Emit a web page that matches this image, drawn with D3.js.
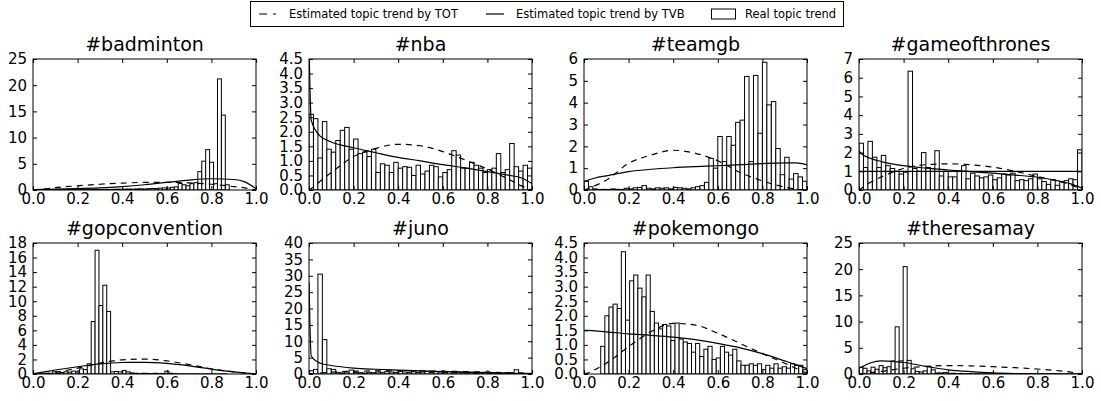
<!DOCTYPE html>
<html>
<head>
<meta charset="utf-8">
<script src="https://cdn.jsdelivr.net/npm/d3@7/dist/d3.min.js"></script>
<style>
  body { margin: 0; background: #fff; }
  text { font-family: "DejaVu Sans", sans-serif; }
</style>
</head>
<body>
<div id="chart"></div>
<script>
// ---- data ----
const topics = ["#badminton", "#nba", "#teamgb", "#gameofthrones",
                "#gopconvention", "#juno", "#pokemongo", "#theresamay"];
const legendLabels = ["Estimated topic trend by TOT", "Estimated topic trend by TVB", "Real topic trend"];

// histogram range of each panel (50 bins over it)
const histLo = [0, 0, 0, 0, 0, 0, 0.075, 0];
const histHi = [0.88, 1, 1, 1, 0.87, 1, 1, 0.9];
const yMax  = [25, 4.5, 6, 7, 18, 40, 4.5, 25];
const yStep = [5, 0.5, 1, 1, 2, 5, 0.5, 5];
const xTicks = [0, 0.2, 0.4, 0.6, 0.8, 1.0];

const realBadminton = [0.05,0.02,0.03,0.02,0.04,0.03,0.05,0.04,0.06,0.05, 0.05,0.06,0.08,0.07,0.06,0.09,0.1,0.08,0.12,0.1,
  0.12,0.15,0.13,0.16,0.18,0.15,0.2,0.22,0.18,0.25, 0.3,0.28,0.35,0.4,0.38,0.5,0.6, 1.25,1.0,0.8,1.2,1.4,3.5,5.5,7.7,5.3,1.2,21.2,14.3,1.0];
const realNba = [2.6,2.45,1.1,2.35,1.4,1.3,1.7,2.05,2.15,1.4, 1.75,1.25,1.3,1.15,1.4,0.6,0.9,0.85,0.6,0.95,
  0.75,0.8,0.78,0.5,0.85,0.55,0.65,0.85,0.8,0.45, 0.6,0.7,1.35,1.2,0.75,0.75,0.95,0.85,0.75,0.6,
  0.7,0.75,1.25,0.6,0.7,1.6,0.8,0.65,0.85,0.75];
const realTeamgb = [0.4,0.15,0.05,0.02,0.03,0.02,0.05,0.03,0.02,0.08, 0.05,0.1,0.12,0.2,0.08,0.05,0.1,0.08,0.1,0.05,
  0.12,0.1,0.08,0.05,0.1,0.15,0.2,0.35, 1.45,1.0,2.45,1.3,2.45,2.05,3.1,3.2,5.2,1.3,
  5.25,2.6,5.85,3.9,4.05,1.9,0.7,1.5,0.5,0.75,0.6,0.4];
const realGot = [2.5,1.2,2.6,1.75,1.2,1.85,1.3,1.15,1.0,0.85, 0.95,6.35,1.15,1.0,2.0,1.2,1.15,2.1,0.75,1.0,
  0.7,0.7,1.0,1.3,0.6,0.9,0.75,0.65,0.7,0.8, 0.55,0.65,0.85,0.8,0.9,0.5,0.55,0.5,0.6,0.85,
  0.6,0.45,0.3,0.55,0.25,0.45,0.5,0.6,0.55,2.15];
const realGop = [0.05,0.02,0.05,0.1,0.08,0.3,0.15,0.2,0.3,0.25, 0.4,0.3,0.7,0.6,1.4,7.2,17.0,9.4,12.2,8.6,
  0.3,0.35,0.3,0.5,0.3,0.15,0.1,0.05,0.1,0.08, 0.05,0.1,0.05,0.08,0.4,0.1,0.05,0.02,0.03,0.02,
  0.02,0.01,0.02,0.01,0.01,0.02,0.01,0.01,0.01,0.02];
const realJuno = [1.0,1.4,30.5,10.5,1.6,1.4,0.5,0.3,0.6,1.2, 0.5,0.4,0.3,0.5,0.4,0.6,0.5,0.7,0.6,0.5,
  0.8,0.6,0.5,0.7,0.5,0.6,0.8,0.5,0.7,0.6, 0.5,0.7,0.4,0.6,0.5,0.4,0.5,0.3,0.4,0.5,
  0.3,0.4,0.3,0.2,0.4,0.3,1.3,0.3,0.2,0.2];
const realPokemongo = [0.95,2.0,2.3,2.4,2.25,4.2,1.85,3.2,3.4,2.95, 2.65,3.4,2.15,1.75,1.55,1.7,1.65,1.15,1.75,1.2,
  1.1,1.05,0.75,1.05,0.6,0.85,0.95,0.5,0.55,0.95, 0.75,0.65,0.85,0.45,0.3,0.3,0.35,0.3,0.35,0.15,
  0.3,0.2,0.35,0.2,0.25,0.2,0.35,0.3,0.3,0.15];
const realTheresamay = [1.3,1.1,0.6,1.3,0.9,1.6,1.2,1.4,2.5,9.0, 2.5,20.5,2.6,1.0,0.5,0.4,0.6,1.4,0.8,0.2,
  0.2,0.3,0.1,0.15,0.05,0.1,0.05,0.08,0.03,0.05, 0.02,0.03,0.02,0.04,0.02,0.01,0.02,0.01,0.02,0.01,
  0.01,0.02,0.01,0.01,0.02,0.01,0.01,0.01,0.02,0.01];
const realTrend = [realBadminton, realNba, realTeamgb, realGot, realGop, realJuno, realPokemongo, realTheresamay];

// estimated curves, sampled at these x positions
const curveX = [0, 0.01, 0.05, 0.1, 0.2, 0.3, 0.4, 0.5, 0.6, 0.7, 0.8, 0.9, 0.95, 1.0];
const totTrend = [
  [0, 0.03, 0.2, 0.45, 0.8, 1.1, 1.3, 1.45, 1.45, 1.35, 1.1, 0.65, 0.4, 0],
  [0, 0.05, 0.3, 0.6, 1.15, 1.43, 1.57, 1.52, 1.32, 1.03, 0.72, 0.35, 0.15, 0],
  [0, 0.03, 0.2, 0.45, 1.22, 1.6, 1.82, 1.68, 1.34, 0.8, 0.42, 0.13, 0.04, 0],
  [0, 0.08, 0.4, 0.7, 1.15, 1.35, 1.4, 1.35, 1.22, 1.0, 0.72, 0.45, 0.28, 0],
  [0, 0.0, 0.05, 0.25, 0.8, 1.5, 1.95, 2.05, 1.8, 1.3, 0.72, 0.3, 0.12, 0],
  [0, 0.05, 0.3, 0.55, 0.85, 0.95, 1.0, 0.95, 0.85, 0.72, 0.58, 0.38, 0.25, 0.05],
  [0, 0.02, 0.15, 0.37, 0.94, 1.45, 1.74, 1.68, 1.4, 1.05, 0.7, 0.37, 0.2, 0.02],
  [0, 0.03, 0.25, 0.5, 1.1, 1.45, 1.6, 1.55, 1.4, 1.2, 0.95, 0.6, 0.35, 0]
];
const tvbTrend = [
  [0.1, 0.1, 0.12, 0.15, 0.25, 0.4, 0.65, 1.0, 1.45, 1.9, 2.15, 2.0, 1.55, 0.25],
  [5.0, 2.4, 1.85, 1.65, 1.45, 1.28, 1.12, 1.0, 0.87, 0.76, 0.63, 0.5, 0.42, 0.22],
  [0.38, 0.42, 0.55, 0.65, 0.84, 0.95, 1.02, 1.07, 1.11, 1.16, 1.21, 1.24, 1.24, 1.15],
  [2.1, 1.95, 1.7, 1.52, 1.3, 1.17, 1.07, 0.98, 0.9, 0.8, 0.68, 0.47, 0.33, 0.1],
  [0.05, 0.1, 0.3, 0.55, 1.0, 1.4, 1.58, 1.6, 1.45, 1.12, 0.68, 0.3, 0.15, 0.03],
  [28, 5.5, 3.3, 2.6, 1.8, 1.45, 1.2, 0.95, 0.75, 0.58, 0.42, 0.25, 0.17, 0.08],
  [1.5, 1.5, 1.48, 1.45, 1.38, 1.33, 1.27, 1.18, 1.05, 0.9, 0.7, 0.45, 0.32, 0.18],
  [1.1, 1.3, 2.1, 2.5, 2.2, 1.45, 0.8, 0.45, 0.22, 0.1, 0.05, 0.02, 0.01, 0]
];
// the flat reference line seen in #gameofthrones
const flatX = [0, 1];
const flatTrend = [null, null, null, [1.0, 1.0], null, null, null, null];

// ---- layout ----
const W = 1101, H = 401;
const colLeft = [33, 309, 584, 859];
const rowTop = [59, 243];
const pw = 223, ph = 131;

const svg = d3.select("#chart").append("svg")
    .attr("width", W)
    .attr("height", H);

topics.forEach((name, i) => {
  let left = colLeft[i % 4],
      top = rowTop[Math.floor(i / 4)];

  let x = d3.scaleLinear().domain([0, 1]).range([0, pw]);
  let y = d3.scaleLinear().domain([0, yMax[i]]).range([ph, 0]);

  let g = svg.append("g")
      .attr("transform", `translate(${ left }, ${ top })`);

  g.append("clipPath")
      .attr("id", `clip${ i }`)
    .append("rect")
      .attr("width", pw)
      .attr("height", ph);

  let plot = g.append("g").attr("clip-path", `url(#clip${ i })`);

  // histogram bars
  let vals = realTrend[i],
      bw = (histHi[i] - histLo[i]) / vals.length;
  plot.selectAll("rect.bar")
      .data(vals)
      .enter().append("rect")
      .attr("class", "bar")
      .attr("x", (d, k) => x(histLo[i] + k * bw))
      .attr("width", x(bw) - x(0))
      .attr("y", (d) => y(d))
      .attr("height", (d) => y(0) - y(d))
      .attr("fill", "#fff")
      .attr("stroke", "#000")
      .attr("stroke-width", 1);

  let line = d3.line()
      .x((d, k) => x(curveX[k]))
      .y((d) => y(d))
      .curve(d3.curveMonotoneX);

  plot.append("path")
      .attr("d", line(totTrend[i]))
      .attr("fill", "none")
      .attr("stroke", "#000")
      .attr("stroke-width", 1.2)
      .attr("stroke-dasharray", "6,5");

  plot.append("path")
      .attr("d", line(tvbTrend[i]))
      .attr("fill", "none")
      .attr("stroke", "#000")
      .attr("stroke-width", 1.2);

  if (flatTrend[i]) {
    let flat = d3.line().x((d, k) => x(flatX[k])).y((d) => y(d));
    plot.append("path")
        .attr("d", flat(flatTrend[i]))
        .attr("fill", "none")
        .attr("stroke", "#000")
        .attr("stroke-width", 1.2);
  }

  // axes, ticks pointing inward on all four sides
  let yTicks = d3.range(0, yMax[i] + yStep[i] / 2, yStep[i]);
  let yFmt = yStep[i] < 1 ? d3.format(".1f") : d3.format("d");

  let ax = [
    [d3.axisBottom(x).tickValues(xTicks).tickFormat(d3.format(".1f")).tickPadding(3), `translate(0, ${ ph })`],
    [d3.axisTop(x).tickValues(xTicks).tickFormat(""), "translate(0, 0)"],
    [d3.axisLeft(y).tickValues(yTicks).tickFormat(yFmt).tickPadding(6), "translate(0, 0)"],
    [d3.axisRight(y).tickValues(yTicks).tickFormat(""), `translate(${ pw }, 0)`]
  ];
  ax.forEach(([a, tr]) => {
    let ag = g.append("g")
        .attr("transform", tr)
        .call(a.tickSizeInner(-4).tickSizeOuter(0));
    ag.select(".domain").remove();
    ag.selectAll("line").attr("stroke", "#000");
    ag.selectAll("text")
        .attr("font-family", "DejaVu Sans")
        .attr("font-size", 15)
        .attr("fill", "#000");
  });

  g.append("rect")
      .attr("width", pw)
      .attr("height", ph)
      .attr("fill", "none")
      .attr("stroke", "#000")
      .attr("stroke-width", 1);

  g.append("text")
      .attr("x", pw / 2)
      .attr("y", -8)
      .attr("text-anchor", "middle")
      .attr("font-size", 19)
      .attr("fill", "#000")
      .text(name);
});

// ---- legend ----
let lx = 250, ly = 1, lw = 593, lh = 25;
let leg = svg.append("g");
leg.append("rect")
    .attr("x", lx + 0.5).attr("y", ly + 0.5)
    .attr("width", lw).attr("height", lh)
    .attr("fill", "#fff").attr("stroke", "#000");

let midY = ly + lh / 2 + 0.5;
leg.append("line")
    .attr("x1", lx + 9).attr("x2", lx + 26)
    .attr("y1", midY).attr("y2", midY)
    .attr("stroke", "#000").attr("stroke-width", 1.2)
    .attr("stroke-dasharray", "8,6");
leg.append("line")
    .attr("x1", lx + 236).attr("x2", lx + 254)
    .attr("y1", midY).attr("y2", midY)
    .attr("stroke", "#000").attr("stroke-width", 1.2);
leg.append("rect")
    .attr("x", lx + 461.5).attr("y", midY - 5)
    .attr("width", 24).attr("height", 10)
    .attr("fill", "#fff").attr("stroke", "#000");

let textX = [lx + 39, lx + 266, lx + 495];
leg.selectAll("text.lab")
    .data(legendLabels)
    .enter().append("text")
    .attr("class", "lab")
    .attr("x", (d, k) => textX[k])
    .attr("y", midY)
    .attr("dy", "0.35em")
    .attr("font-size", 11.5)
    .attr("fill", "#000")
    .text((d) => d);
</script>
</body>
</html>
